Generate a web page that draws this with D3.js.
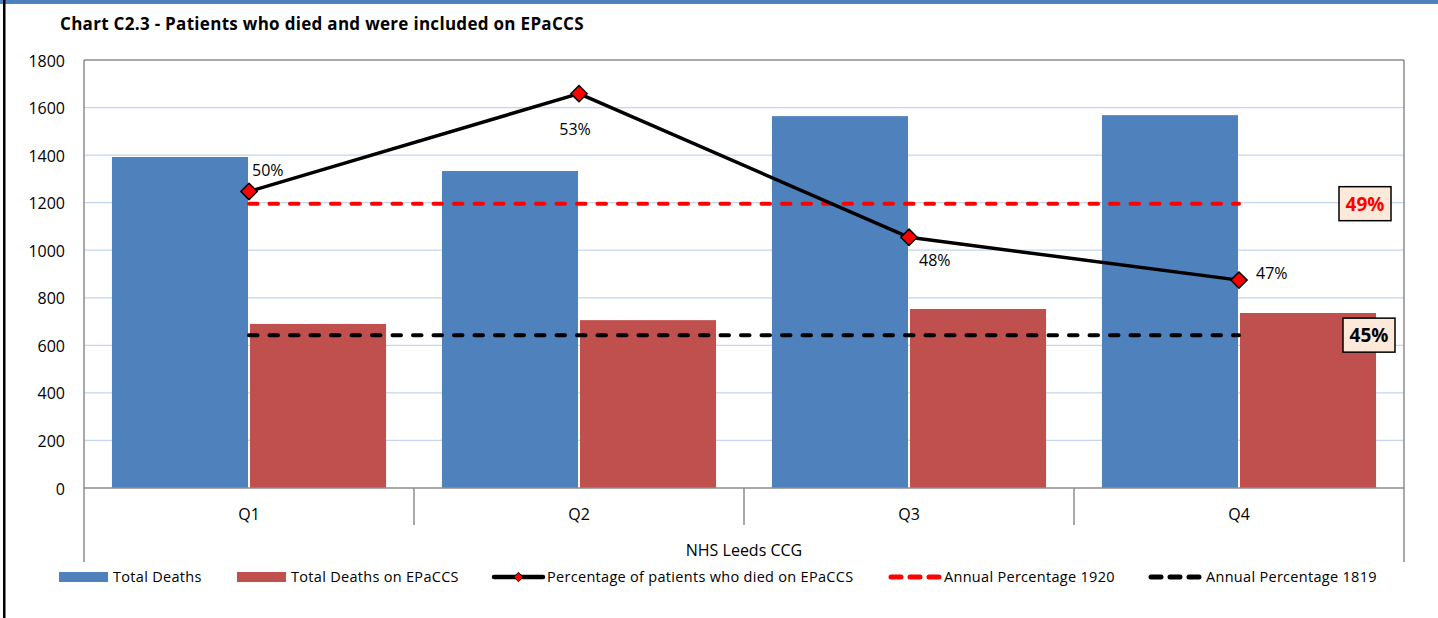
<!DOCTYPE html>
<html>
<head>
<meta charset="utf-8">
<style>
  body { margin: 0; background: #fff; }
  svg text { font-family: "Open Sans", Lato, sans-serif; fill: #000; }
  .grid line { stroke: #c5d5ee; stroke-width: 1.3px; }
</style>
</head>
<body>
<div id="chart"></div>
<script src="https://d3js.org/d3.v7.min.js"></script>
<script>

var width = 1438;
var height = 618;

// data
var quarters = ["Q1", "Q2", "Q3", "Q4"];
var totalDeaths = [1392, 1333, 1564, 1568];
var epaccsDeaths = [690, 706, 753, 736];
var pctOnEpaccs = [49.7, 52.9, 48.2, 46.8];   // percent, shown rounded
var annual1920 = 49.3;
var annual1819 = 45.0;
var yTicks = [0, 200, 400, 600, 800, 1000, 1200, 1400, 1600, 1800];
var seriesNames = ["Total Deaths", "Total Deaths on EPaCCS"];
var groupLabel = "NHS Leeds CCG";

var plot = { left: 84, right: 1404, top: 60, bottom: 488 };

var svg = d3.select("#chart").append("svg")
    .attr("width", width)
    .attr("height", height);

// frame: blue strip on top, black left edge
svg.append("rect").attr("x", 0).attr("y", 0).attr("width", width).attr("height", 4).attr("fill", "#4f81bd");
svg.append("rect").attr("x", 3).attr("y", 0).attr("width", 2.5).attr("height", height).attr("fill", "#000");

svg.append("text")
    .attr("x", 60).attr("y", 30)
    .style("font-size", "17px")
    .style("letter-spacing", "0.3px")
    .style("font-weight", "bold")
    .text("Chart C2.3 - Patients who died and were included on EPaCCS");

var x = d3.scaleBand().domain(quarters).range([plot.left, plot.right]).padding(0);
var xs = d3.scaleBand().domain(seriesNames).range([0, x.bandwidth()]).paddingInner(0).paddingOuter(0.204);
var y = d3.scaleLinear().domain([0, 1800]).range([plot.bottom, plot.top]);
// hidden secondary axis for the percentages
var y2 = d3.scaleLinear().domain([40, 54]).range([plot.bottom, plot.top]);

// gridlines
svg.append("g").attr("class", "grid")
  .selectAll("line")
  .data(yTicks.filter(function(d) { return d > 0 && d < 1800; }))
  .enter().append("line")
    .attr("x1", plot.left).attr("x2", plot.right)
    .attr("y1", function(d) { return y(d); })
    .attr("y2", function(d) { return y(d); });

// y axis labels
svg.append("g")
  .selectAll("text")
  .data(yTicks)
  .enter().append("text")
    .attr("x", 65)
    .attr("y", function(d) { return y(d) + 1; })
    .attr("dy", "0.35em")
    .attr("text-anchor", "end")
    .style("font-size", "16px")
    .text(function(d) { return d; });

// bars
var barData = [];
quarters.forEach(function(q, i) {
  barData.push({ q: q, s: seriesNames[0], v: totalDeaths[i], c: "#4f81bd" });
  barData.push({ q: q, s: seriesNames[1], v: epaccsDeaths[i], c: "#c0504d" });
});

svg.append("g")
  .selectAll("rect")
  .data(barData)
  .enter().append("rect")
    .attr("x", function(d) { return x(d.q) + xs(d.s) + (d.s == seriesNames[1] ? 1 : 0); })
    .attr("width", function(d) { return xs.bandwidth() - 1; })
    .attr("y", function(d) { return y(d.v); })
    .attr("height", function(d) { return y(0) - y(d.v); })
    .attr("fill", function(d) { return d.c; });

// plot frame + category axis
var axisCol = "#8c8c8c";
var frame = svg.append("g").attr("stroke", axisCol).attr("stroke-width", 1.5).attr("fill", "none");
frame.append("line").attr("x1", plot.left).attr("x2", plot.right).attr("y1", plot.top).attr("y2", plot.top);
frame.append("line").attr("x1", plot.left).attr("x2", plot.right).attr("y1", plot.bottom).attr("y2", plot.bottom);
frame.append("line").attr("x1", plot.left).attr("x2", plot.left).attr("y1", plot.top).attr("y2", 562);
frame.append("line").attr("x1", plot.right).attr("x2", plot.right).attr("y1", plot.top).attr("y2", 562);
frame.selectAll(".tick")
  .data(quarters.slice(1))
  .enter().append("line")
    .attr("x1", function(d) { return x(d); })
    .attr("x2", function(d) { return x(d); })
    .attr("y1", plot.bottom).attr("y2", 525);

svg.append("g")
  .selectAll("text")
  .data(quarters)
  .enter().append("text")
    .attr("x", function(d) { return x(d) + x.bandwidth() / 2; })
    .attr("y", 519.5)
    .attr("text-anchor", "middle")
    .style("font-size", "16px")
    .text(function(d) { return d; });

svg.append("text")
    .attr("x", (plot.left + plot.right) / 2)
    .attr("y", 556)
    .attr("text-anchor", "middle")
    .style("font-size", "16px")
    .text(groupLabel);

// annual dashed lines
var xFirst = x(quarters[0]) + x.bandwidth() / 2;
var xLast = x(quarters[3]) + x.bandwidth() / 2;

function dashLine(v, col) {
  svg.append("line")
    .attr("x1", xFirst).attr("x2", xLast)
    .attr("y1", y2(v)).attr("y2", y2(v))
    .attr("stroke", col)
    .attr("stroke-width", 4)
    .attr("stroke-linecap", "round")
    .attr("stroke-dasharray", "8.5,12");
}
dashLine(annual1920, "#ff0000");
dashLine(annual1819, "#000");

// percentage line
var pts = quarters.map(function(q, i) { return { q: q, v: pctOnEpaccs[i] }; });
var line = d3.line()
    .x(function(d) { return x(d.q) + x.bandwidth() / 2; })
    .y(function(d) { return y2(d.v); });

svg.append("path")
    .datum(pts)
    .attr("d", line)
    .attr("fill", "none")
    .attr("stroke", "#000")
    .attr("stroke-width", 3.5)
    .attr("stroke-linejoin", "round");

var diamond = d3.symbol().type(d3.symbolDiamond2).size(170);

svg.append("g")
  .selectAll("path")
  .data(pts)
  .enter().append("path")
    .attr("d", diamond)
    .attr("transform", function(d) { return "translate(" + (x(d.q) + x.bandwidth() / 2) + "," + y2(d.v) + ")"; })
    .attr("fill", "#ff0000")
    .attr("stroke", "#000")
    .attr("stroke-width", 1.5);

// label offsets for each point
var labelOff = [[3, -21, "start"], [-4, 36, "middle"], [10, 23, "start"], [17, -7, "start"]];
svg.append("g")
  .selectAll("text")
  .data(pts)
  .enter().append("text")
    .attr("x", function(d, i) { return x(d.q) + x.bandwidth() / 2 + labelOff[i][0]; })
    .attr("y", function(d, i) { return y2(d.v) + labelOff[i][1]; })
    .attr("dy", "0.35em")
    .attr("text-anchor", function(d, i) { return labelOff[i][2]; })
    .style("font-size", "16px")
    .text(function(d) { return Math.round(d.v) + "%"; });

// boxed annual labels on the right
function annualBox(v, cx, col) {
  var g = svg.append("g").attr("transform", "translate(" + cx + "," + y2(v) + ")");
  g.append("rect")
    .attr("x", -26).attr("y", -17).attr("width", 52).attr("height", 34)
    .attr("fill", "#fde9d9")
    .attr("stroke", "#000")
    .attr("stroke-width", 1.5);
  g.append("text")
    .attr("text-anchor", "middle")
    .attr("dy", "0.36em")
    .style("font-size", "19px")
    .style("font-weight", "bold")
    .style("fill", col)
    .text(Math.round(v) + "%");
}
annualBox(annual1920, 1365, "#ff0000");
annualBox(annual1819, 1369, "#000");

// legend
var ly = 577;
var legend = svg.append("g");
function legText(tx, t) {
  legend.append("text").attr("x", tx).attr("y", ly).attr("dy", "0.35em")
    .style("font-size", "14.5px").style("letter-spacing", "0.3px").text(t);
}
legend.append("rect").attr("x", 59).attr("y", ly - 5).attr("width", 49).attr("height", 10).attr("fill", "#4f81bd");
legText(113, seriesNames[0]);
legend.append("rect").attr("x", 237).attr("y", ly - 5).attr("width", 49).attr("height", 10).attr("fill", "#c0504d");
legText(291, seriesNames[1]);

legend.append("line").attr("x1", 494).attr("x2", 543).attr("y1", ly).attr("y2", ly)
  .attr("stroke", "#000").attr("stroke-width", 4.5).attr("stroke-linecap", "round");
legend.append("path").attr("d", d3.symbol().type(d3.symbolDiamond2).size(55))
  .attr("transform", "translate(518.5," + ly + ")")
  .attr("fill", "#ff0000").attr("stroke", "#000").attr("stroke-width", 1);
legText(547, "Percentage of patients who died on EPaCCS");

legend.append("line").attr("x1", 891).attr("x2", 940).attr("y1", ly).attr("y2", ly)
  .attr("stroke", "#ff0000").attr("stroke-width", 5).attr("stroke-linecap", "round")
  .attr("stroke-dasharray", "10,9");
legText(944, "Annual Percentage 1920");

legend.append("line").attr("x1", 1151).attr("x2", 1200).attr("y1", ly).attr("y2", ly)
  .attr("stroke", "#000").attr("stroke-width", 5).attr("stroke-linecap", "round")
  .attr("stroke-dasharray", "10,9");
legText(1206, "Annual Percentage 1819");

</script>
</body>
</html>
